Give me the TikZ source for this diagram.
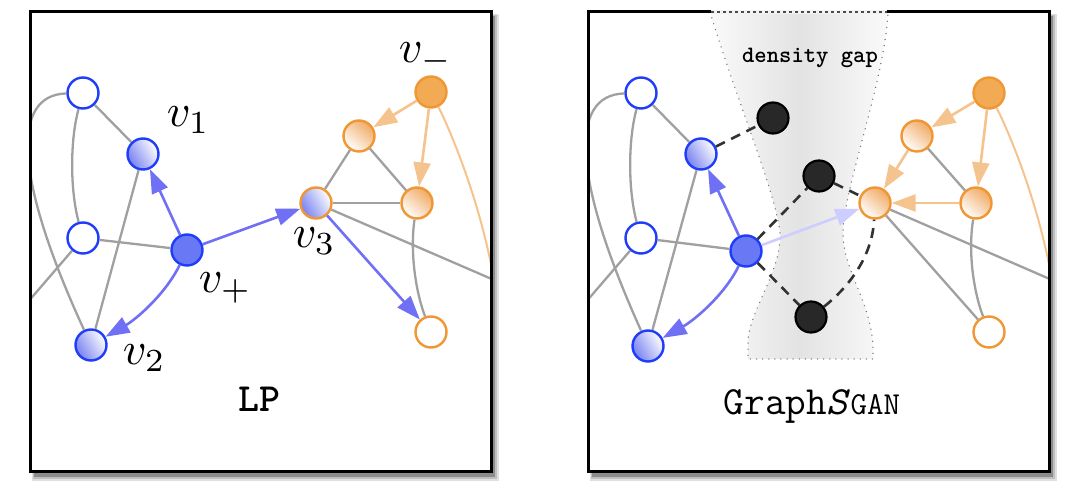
\documentclass[tikz,border=0pt]{standalone}
\usetikzlibrary{arrows.meta}
\definecolor{bluebd}{RGB}{30,60,250}
\definecolor{bluefill}{RGB}{105,120,245}
\definecolor{blueshd}{RGB}{120,130,240}
\definecolor{bluearr}{RGB}{112,112,245}
\definecolor{bluelite}{RGB}{205,205,255}
\definecolor{orangebd}{RGB}{240,150,50}
\definecolor{orangefill}{RGB}{242,170,85}
\definecolor{orangeshd}{RGB}{240,170,100}
\definecolor{orangearr}{RGB}{245,196,142}
\definecolor{edgegray}{RGB}{160,160,160}
\definecolor{dashcol}{RGB}{50,50,50}
\definecolor{blkfill}{RGB}{40,40,40}
\newcommand{\ttsize}[1]{\ttfamily\fontsize{#1}{#1}\selectfont}
\tikzset{
  nd/.style={circle, minimum size=31pt, inner sep=0pt, line width=2.4pt},
  bwhite/.style={nd, draw=bluebd, fill=white},
  bshade/.style={nd, draw=bluebd, top color=white, bottom color=blueshd, shading angle=-60},
  bfull/.style={nd, draw=bluebd, fill=bluefill},
  bvthree/.style={nd, draw=orangebd, top color=white, bottom color=blueshd, shading angle=-60},
  owhite/.style={nd, draw=orangebd, fill=white},
  oshade/.style={nd, draw=orangebd, top color=orangeshd, bottom color=white, shading angle=-40},
  ofull/.style={nd, draw=orangebd, fill=orangefill},
  blk/.style={nd, draw=black, fill=blkfill, line width=2.2pt},
  gedge/.style={draw=edgegray, line width=2.3pt},
  ocurve/.style={draw=orangearr, line width=2pt},
  barrow/.style={draw=bluearr, line width=2.6pt, -{Triangle[length=24pt,width=17pt]}},
  lbarrow/.style={draw=bluelite, line width=2.6pt, -{Triangle[length=24pt,width=17pt]}},
  oarrow/.style={draw=orangearr, line width=2.6pt, -{Triangle[length=24pt,width=17pt]}},
  dedge/.style={draw=dashcol, line width=2.6pt, dash pattern=on 10pt off 7pt},
  lab/.style={inner sep=0pt, anchor=base west, scale=4.6},
  frameshadow/.pic={
    \fill[black!12] (32,14) rectangle (499,481);
    \fill[black!25] (33,15) rectangle (497,479);
    \fill[black!45] (34,16) rectangle (495,477);
    \fill[white] (30,12) rectangle (491,472);
  }
}
\begin{document}
\begin{tikzpicture}[x=1pt,y=-1pt]
\useasboundingbox (0,0) rectangle (1080,502);
% ================= LEFT PANEL =================
\begin{scope}
  \pic {frameshadow};
  \begin{scope}
    \clip (30,12) rectangle (491,472);
    \coordinate (LoffL) at (-10,346);
    \coordinate (LoffR) at (494,280);
    \node[bwhite] (Lt) at (83,93) {};
    \node[bshade] (L1) at (143,154) {};
    \node[bwhite] (Lm) at (83,238) {};
    \node[bfull] (Lp) at (187,250) {};
    \node[bshade] (L2) at (91,345) {};
    \node[bvthree] (L3) at (316,203) {};
    \node[oshade] (Lo1) at (359,136) {};
    \node[ofull] (Ln) at (431,92) {};
    \node[oshade] (Lo2) at (417,203) {};
    \node[owhite] (Lo3) at (431,332) {};
    \draw[gedge] (Lt) -- (L1);
    \draw[gedge] (Lt) .. controls (70,140) and (70,190) .. (Lm);
    \draw[gedge] (Lt) .. controls (10,95) and (15,180) .. (L2);
    \draw[gedge] (Lm) -- (Lp);
    \draw[gedge] (Lm) -- (LoffL);
    \draw[gedge] (L1) -- (L2);
    \draw[gedge] (L3) -- (Lo1);
    \draw[gedge] (L3) -- (Lo2);
    \draw[gedge] (Lo1) -- (Lo2);
    \draw[gedge] (L3) -- (LoffR);
    \draw[gedge] (Lo2) .. controls (410,250) and (415,290) .. (Lo3);
    \draw[ocurve] (Ln) .. controls (450,130) and (480,200) .. (LoffR);
    \draw[barrow] (Lp) -- (L1);
    \draw[barrow] (Lp) .. controls (165,295) and (135,320) .. (L2);
    \draw[barrow] (Lp) -- (L3);
    \draw[barrow] (L3) -- (Lo3);
    \draw[oarrow] (Ln) -- (Lo1);
    \draw[oarrow] (Ln) -- (Lo2);
  \end{scope}
  \node[lab] (lv1) at (166,127) {$v_1$};
  \node[lab] (lvp) at (198,293) {$v_+$};
  \node[lab] (lv2) at (122,365) {$v_2$};
  \node[lab] (lv3) at (292,248) {$v_3$};
  \node[lab] (lvn) at (398,63) {$v_-$};
  \node[anchor=base, inner sep=0pt] (lp) at (259,412) {\ttsize{40}\bfseries LP};
  \draw[line width=3pt] (30,12) rectangle (491,472);
\end{scope}
% ================= RIGHT PANEL =================
\begin{scope}[xshift=558pt]
  \pic {frameshadow};
  \begin{scope}
    \clip (30,12) rectangle (491,472);
    \shade[left color=black!2, right color=black!2, middle color=black!11]
      (152,11) .. controls (182,110) and (217,190) .. (222,233)
      .. controls (224,270) and (192,310) .. (190,340) -- (190,359) -- (315,359) -- (315,345)
      .. controls (312,300) and (285,270) .. (285,233)
      .. controls (285,190) and (327,80) .. (330,11) -- cycle;
    \draw[black!55, line width=1.4pt, line cap=round, dash pattern=on 0.1pt off 6pt]
      (152,12) .. controls (182,110) and (217,190) .. (222,233)
      .. controls (224,270) and (192,310) .. (190,340) -- (190,359) -- (315,359) -- (315,345)
      .. controls (312,300) and (285,270) .. (285,233)
      .. controls (285,190) and (327,80) .. (330,12);
    \node[anchor=base, inner sep=0pt] (dg) at (252,63) {\ttsize{23.5}\bfseries density gap};
    \coordinate (RoffL) at (-10,346);
    \coordinate (RoffR) at (494,280);
    \node[bwhite] (Rt) at (83,93) {};
    \node[bshade] (R1) at (143,154) {};
    \node[bwhite] (Rm) at (83,238) {};
    \node[bfull] (Rp) at (188,251) {};
    \node[bshade] (R2) at (90,346) {};
    \node[oshade] (R3) at (317,203) {};
    \node[oshade] (Ro1) at (359,136) {};
    \node[ofull] (Rn) at (431,93) {};
    \node[oshade] (Ro2) at (418,203) {};
    \node[owhite] (Ro3) at (431,332) {};
    \node[blk] (Rb1) at (215,118) {};
    \node[blk] (Rb2) at (261,176) {};
    \node[blk] (Rb3) at (253,317) {};
    \draw[gedge] (Rt) -- (R1);
    \draw[gedge] (Rt) .. controls (70,140) and (70,190) .. (Rm);
    \draw[gedge] (Rt) .. controls (10,95) and (15,180) .. (R2);
    \draw[gedge] (Rm) -- (Rp);
    \draw[gedge] (Rm) -- (RoffL);
    \draw[gedge] (R1) -- (R2);
    \draw[gedge] (Ro1) -- (Ro2);
    \draw[gedge] (R3) -- (RoffR);
    \draw[gedge] (R3) -- (Ro3);
    \draw[gedge] (Ro2) .. controls (410,250) and (415,290) .. (Ro3);
    \draw[ocurve] (Rn) .. controls (450,130) and (480,200) .. (RoffR);
    \draw[barrow] (Rp) -- (R1);
    \draw[barrow] (Rp) .. controls (166,296) and (135,321) .. (R2);
    \draw[lbarrow] (Rp) -- (R3);
    \draw[oarrow] (Rn) -- (Ro1);
    \draw[oarrow] (Rn) -- (Ro2);
    \draw[oarrow] (Ro1) -- (R3);
    \draw[oarrow] (Ro2) -- (R3);
    \draw[dedge] (R1) -- (Rb1);
    \draw[dedge] (Rp) -- (Rb2);
    \draw[dedge] (Rb2) -- (R3);
    \draw[dedge] (Rp) -- (Rb3);
    \draw[dedge] (Rb3) .. controls (287,290) and (314,260) .. (R3);
  \end{scope}
  \node[anchor=base, inner sep=0pt] (gs) at (254,415) {\ttsize{40}Graph\textit{S}{\fontsize{32}{32}\selectfont GAN}};
  \draw[line width=3pt] (30,12) rectangle (491,472);
  \draw[black!5, line width=3.1pt] (153,12) -- (329,12);
  \draw[black!70, line width=1.8pt, dash pattern=on 3pt off 3pt] (153,12) -- (329,12);
\end{scope}
\end{tikzpicture}
\end{document}
